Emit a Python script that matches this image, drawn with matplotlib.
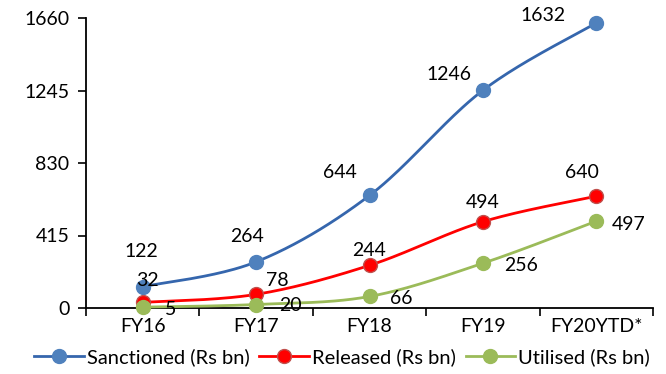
import numpy as np
import matplotlib
matplotlib.use("Agg")
import matplotlib.pyplot as plt
from matplotlib.lines import Line2D

categories = ["FY16", "FY17", "FY18", "FY19", "FY20YTD*"]
sanctioned = [122, 264, 644, 1246, 1632]
released = [32, 78, 244, 494, 640]
utilised = [5, 20, 66, 256, 497]
y_ticks = [0, 415, 830, 1245, 1660]

plt.rcParams["font.family"] = ["Lato", "DejaVu Sans"]
FS = 14

fig = plt.figure(figsize=(6.66, 3.74), dpi=100)
ax = fig.add_axes([86 / 666, 1 - 308 / 374, (653 - 86) / 666, (308 - 18) / 374])


def smooth(xs, ys, n=40):
    """Cubic Bezier smoothing through every point (Catmull-Rom style)."""
    pts = np.column_stack([xs, ys]).astype(float)
    out = [pts[0]]
    for i in range(len(pts) - 1):
        p0 = pts[i - 1] if i > 0 else pts[i]
        p1, p2 = pts[i], pts[i + 1]
        p3 = pts[i + 2] if i + 2 < len(pts) else pts[i + 1]
        c1 = p1 + (p2 - p0) / 6.0
        c2 = p2 - (p3 - p1) / 6.0
        t = np.linspace(0, 1, n)[1:, None]
        seg = ((1 - t) ** 3) * p1 + 3 * ((1 - t) ** 2) * t * c1 + 3 * (1 - t) * t ** 2 * c2 + t ** 3 * p2
        out.extend(seg)
    out = np.array(out)
    return out[:, 0], out[:, 1]


x = np.arange(len(categories))

series = [
    ("Sanctioned (Rs bn)", sanctioned, "#3566ad", "#4f81bd", "#4f81bd"),
    ("Released (Rs bn)", released, "#ff0000", "#ff0000", "#c0504d"),
    ("Utilised (Rs bn)", utilised, "#9bbb59", "#9bbb59", "#9bbb59"),
]

label_offsets = {
    "Sanctioned (Rs bn)": [(-1, 35), (-9, 25), (-30, 23), (-34, 16), (-53, 7)],
    "Released (Rs bn)": [(5, 22), (21, 14), (0, 15), (0, 19), (-14, 24)],
    "Utilised (Rs bn)": [(28, -2), (34, -1), (32, -2), (38, -2), (32, -3)],
}

handles = []
for name, vals, lc, mc, ec in series:
    sx, sy = smooth(x, vals)
    ax.plot(sx, sy, color=lc, lw=2.0, zorder=3, clip_on=False)
    ax.plot(x, vals, ls="none", marker="o", ms=10, mfc=mc, mec=ec, mew=1.0,
            zorder=4, clip_on=False)
    for xi, v, (dx, dy) in zip(x, vals, label_offsets[name]):
        ax.annotate(str(v), (xi, v), xytext=(dx, dy), textcoords="offset pixels",
                    ha="center", va="center", fontsize=FS, color="#000000", zorder=5)
    handles.append(Line2D([], [], color=lc, lw=2.0, marker="o", ms=10,
                          mfc=mc, mec=ec, mew=1.0, label=name))

ax.set_xlim(-0.5, len(categories) - 0.5)
ax.set_ylim(0, 1660)

ax.set_xticks(np.arange(len(categories) + 1) - 0.5)
ax.set_xticklabels([])
ax.set_xticks(x, minor=True)
ax.set_xticklabels(categories, minor=True)
ax.tick_params(axis="x", which="major", direction="out", length=6, width=1.2, color="#000000")
ax.tick_params(axis="x", which="minor", length=0, pad=7, labelsize=FS)

ax.set_yticks(y_ticks)
ax.set_yticklabels([str(t) for t in y_ticks])
ax.tick_params(axis="y", direction="out", length=6, width=1.2, labelsize=FS, pad=6)

for side in ["top", "right"]:
    ax.spines[side].set_visible(False)
for side in ["left", "bottom"]:
    ax.spines[side].set_linewidth(1.3)
    ax.spines[side].set_color("#000000")
    ax.spines[side].set_zorder(2)

fig.legend(handles=handles, loc="center", bbox_to_anchor=(342 / 666, 1 - 357 / 374),
           ncol=3, frameon=False, fontsize=14.5, handlelength=2.45, handletextpad=0.15,
           columnspacing=0.5, borderaxespad=0, borderpad=0)

fig.savefig("out.png", dpi=100)
